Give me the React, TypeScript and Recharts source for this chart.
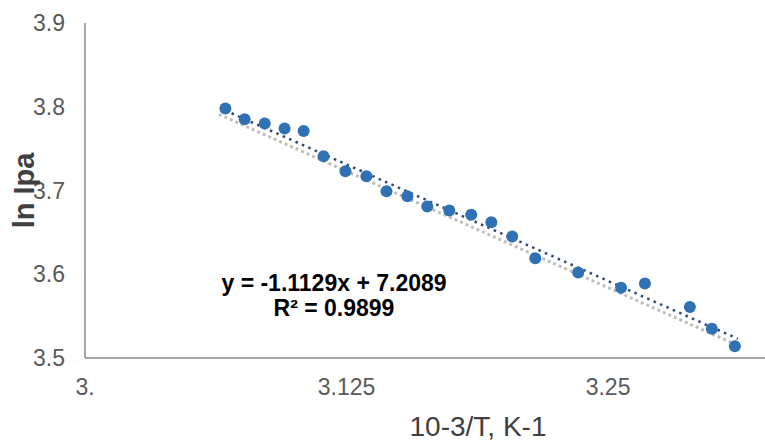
import React from 'react';
import { ComposedChart, Scatter, XAxis, YAxis, ReferenceLine, Label } from 'recharts';

// 10^3/T values and ln Ipa
const xValues = [
  3.0671, 3.0763, 3.0859, 3.0954, 3.1045, 3.114, 3.1245, 3.1345, 3.1441, 3.1541, 3.1636,
  3.1741, 3.1846, 3.1942, 3.2042, 3.2152, 3.2357, 3.2562, 3.2676, 3.2891, 3.2996, 3.3106,
];
const yValues = [
  3.798, 3.785, 3.78, 3.774, 3.771, 3.741, 3.723, 3.717, 3.699, 3.693, 3.681,
  3.676, 3.671, 3.662, 3.645, 3.619, 3.602, 3.584, 3.589, 3.561, 3.535, 3.514,
];

const xTicks = [3, 3.125, 3.25];
const yTicks = [3.5, 3.6, 3.7, 3.8, 3.9];

// linear fit shown on the chart
const slope = -1.1129;
const intercept = 7.2089;
const fitRange = [3.067, 3.312];
// second (grey) dotted trendline sits a little below the fit
const greyOffset = -0.008;
const greyRange = [3.064, 3.31];

const points = xValues.map((x, i) => ({ x, y: yValues[i] }));

const fit = (x: number, off = 0) => slope * x + intercept + off;

const Dot = (props: any) => {
  if (props.cx == null || props.cy == null) return null;
  return <circle cx={props.cx} cy={props.cy} r={6} fill="#3071B3" />;
};

const fmtX = (v: number) => (v === 3 ? '3.' : String(v));

const font = 'Liberation Sans, Arial, sans-serif';

export default function App() {
  return (
    <div style={{ position: 'absolute', left: 0, top: 0, width: 765, height: 446, background: '#fff' }}>
      <ComposedChart width={765} height={446} margin={{ top: 23, right: 0, bottom: 0, left: 0 }}>
        <XAxis
          type="number"
          dataKey="x"
          domain={[3, 3.325]}
          ticks={xTicks}
          tickFormatter={fmtX}
          allowDataOverflow
          height={88}
          axisLine={{ stroke: '#a6a6a6', strokeWidth: 2 }}
          tickLine={false}
          tickSize={0}
          tickMargin={21}
          tick={{ fill: '#595959', fontSize: 23, fontFamily: font }}
        >
          <Label
            value="10-3/T, K-1"
            position="insideBottom"
            offset={10}
            dx={53}
            style={{ fill: '#404040', fontSize: 28, fontFamily: font }}
          />
        </XAxis>
        <YAxis
          type="number"
          dataKey="y"
          domain={[3.5, 3.9]}
          ticks={yTicks}
          allowDataOverflow
          width={85}
          axisLine={{ stroke: '#a6a6a6', strokeWidth: 2 }}
          tickLine={false}
          tickSize={0}
          tickMargin={20}
          tick={{ fill: '#595959', fontSize: 23, fontFamily: font }}
        >
          <Label
            value="ln Ipa"
            angle={-90}
            position="insideLeft"
            offset={24}
            style={{ fill: '#404040', fontSize: 29, fontWeight: 'bold', fontFamily: font, textAnchor: 'middle' }}
          />
        </YAxis>
        <ReferenceLine
          segment={[
            { x: greyRange[0], y: fit(greyRange[0], greyOffset) },
            { x: greyRange[1], y: fit(greyRange[1], greyOffset) },
          ]}
          stroke="#bfbfbf"
          strokeWidth={3}
          strokeDasharray="3 3"
        />
        <Scatter data={points} dataKey="y" shape={<Dot />} isAnimationActive={false} />
        <ReferenceLine
          segment={[
            { x: fitRange[0], y: fit(fitRange[0]) },
            { x: fitRange[1], y: fit(fitRange[1]) },
          ]}
          stroke="#2f4a6b"
          strokeWidth={2.5}
          strokeDasharray="2.5 4.5"
        />
      </ComposedChart>
      <div
        style={{
          position: 'absolute',
          left: 194,
          top: 271,
          width: 280,
          textAlign: 'center',
          fontFamily: font,
          fontWeight: 'bold',
          fontSize: 23,
          lineHeight: '25px',
          color: '#000',
        }}
      >
        <div>y = -1.1129x + 7.2089</div>
        <div>R² = 0.9899</div>
      </div>
    </div>
  );
}
